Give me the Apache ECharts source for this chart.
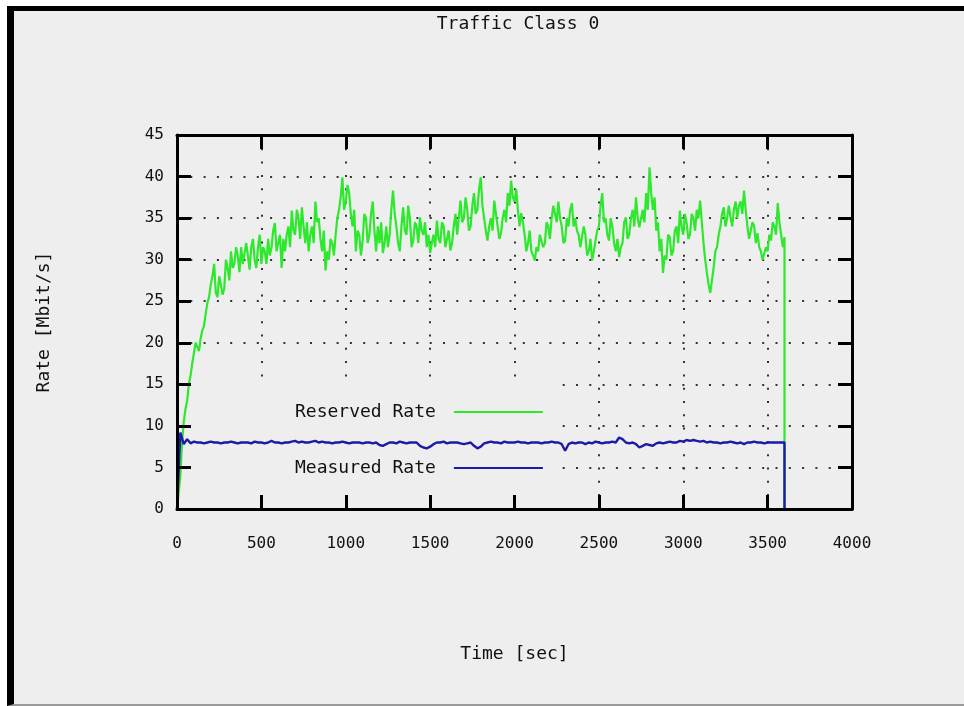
<!DOCTYPE html>
<html>
<head>
<meta charset="utf-8">
<script src="https://cdn.jsdelivr.net/npm/echarts@6/dist/echarts.min.js"></script>
<style>
  html, body { margin: 0; padding: 0; background: #ffffff; }
  #frame { position: absolute; left: 7px; top: 6px; width: 957px; height: 693px;
           background: #eeeeee; border-top: 5px solid #000; border-left: 7px solid #000;
           border-bottom: 2px solid #9a9a9a; box-sizing: content-box; }
  #chart { position: absolute; left: 0; top: 0; width: 964px; height: 706px; }
</style>
</head>
<body>
<div id="frame"></div>
<div id="chart"></div>
<script>
const titleText = 'Traffic Class 0';
const xName = 'Time [sec]';
const yName = 'Rate [Mbit/s]';
const seriesNames = ['Reserved Rate', 'Measured Rate'];
const reservedStep = 10;  // seconds between Reserved Rate samples
const measuredStep = 20;  // seconds between Measured Rate samples
const endTime = 3600;     // both series drop to 0 here
const xRange = [0, 4000, 500];
const yRange = [0, 45, 5];

// Reserved Rate (Mbit/s), one value every 10 s from t=0 to t=3600
const reserved = [
  0, 2, 4, 8, 10.5, 12, 13, 15, 16, 17.5, 18.7, 20, 19.5, 19, 20.5, 21.5, 22, 23.5, 24.8, 25.5,
  27, 28, 29.5, 26, 25.5, 28, 27, 25.8, 26.5, 30, 29, 27.5, 31, 29, 29.5, 31.5, 30.5, 28.5, 31.5, 29.5,
  29.5, 32, 30.5, 28.8, 31.5, 32.5, 30, 29, 31.5, 33, 29.5, 31.5, 31, 29.5, 32.5, 30.5, 31.5, 33.5, 34.4, 31,
  32, 33, 29, 32.5, 31, 33, 34, 31.5, 35.9, 33.5, 33, 36, 35, 32.5, 36.3, 34, 32, 34.5, 31, 33,
  34, 32, 37, 34.5, 35, 32.5, 31, 33.5, 28.7, 31, 30, 32.5, 32, 30.5, 33, 35, 36, 37.5, 39.9, 36,
  37, 39, 38, 35.5, 34, 36, 31, 33.5, 33, 30.5, 32.3, 35.5, 35, 32, 33, 35.5, 37, 33.5, 31, 34,
  32, 34.5, 30.8, 32, 34, 31.5, 33, 36, 38.3, 35.5, 34, 32, 31, 34, 36.3, 33.5, 33, 36.5, 35, 31.5,
  32.3, 34.5, 34, 32, 35.1, 33.5, 33, 34.5, 31.5, 33, 30.8, 32, 33, 31.5, 34.7, 32.5, 32, 34.5, 34, 31.5,
  31.5, 33.5, 31.1, 32, 34, 35.5, 33, 35, 37.1, 34.5, 35, 37.5, 36, 33.5, 34, 36.5, 38, 35.5, 36, 38.5,
  39.9, 36.5, 35, 33.5, 32.3, 34, 35, 33.5, 37.1, 35.5, 34, 32.5, 33.2, 35, 36, 34.5, 38, 36.5, 39.5, 37.5,
  37, 38.5, 36, 34, 35.6, 34.5, 33, 31, 32, 33.5, 31, 30.5, 29.9, 31.5, 31, 33, 33.2, 31.5, 32, 34.5,
  34, 32.5, 35, 36.5, 36.3, 34.5, 37, 35, 34, 32, 32.3, 35, 34, 36, 36.8, 34, 35, 33.5, 33, 31.5,
  31.5, 34, 33, 30.5, 31, 32.5, 29.9, 31, 31, 33.5, 34, 36.5, 38, 34.5, 35, 33, 32.3, 35, 34, 32,
  31, 32.5, 30.3, 31.5, 32, 34.5, 35.1, 32.5, 33, 35, 36, 34, 37.5, 35, 33.9, 35, 36, 34.5, 38, 36,
  41.1, 38, 36, 37.5, 33.5, 34.5, 31, 32.5, 28.4, 30.5, 30, 33, 32.7, 30.5, 31, 33.5, 34, 32, 35.9, 34,
  33, 35.5, 34.4, 32.5, 33, 35.5, 35, 33.5, 36, 35, 37.1, 34.5, 32, 30, 28.4, 27, 26, 27.5, 29, 31,
  31.5, 33, 34, 35.5, 36.3, 34, 35, 36.5, 35.1, 34, 36, 37, 35, 36.5, 37, 35.5, 38.3, 36, 34, 32.5,
  32.3, 34.5, 34, 32, 33.2, 31.5, 31, 30, 29.9, 31.5, 31, 33, 32.3, 34.5, 34, 33, 36.8, 34.5, 33, 31.5,
  32.7
];

// Measured Rate (Mbit/s), one value every 20 s from t=0 to t=3600
const measured = [
  0, 9.2, 7.8, 8.4, 7.9, 8.1, 8.0, 8.0, 7.9, 8.0, 8.1, 8.0, 8.0, 7.9, 8.0, 8.0, 8.1, 8.0, 7.9, 8.0,
  8.0, 8.0, 7.9, 8.1, 8.0, 8.0, 7.9, 8.0, 8.2, 8.0, 8.0, 7.9, 8.0, 8.0, 8.1, 8.2, 8.0, 8.1, 8.0, 8.0,
  8.1, 8.2, 8.0, 8.1, 8.0, 8.0, 7.9, 8.0, 8.0, 8.1, 8.0, 7.9, 8.0, 8.0, 8.0, 7.9, 8.0, 8.0, 7.9, 8.0,
  7.7, 7.6, 7.8, 8.0, 8.0, 7.9, 8.1, 8.0, 7.9, 8.0, 8.0, 8.0, 7.6, 7.4, 7.3, 7.5, 7.8, 8.0, 8.0, 8.1,
  7.9, 8.0, 8.0, 8.0, 7.9, 7.8, 7.9, 8.0, 7.6, 7.3, 7.5, 7.9, 8.0, 8.1, 8.0, 8.0, 7.9, 8.1, 8.0, 8.0,
  8.0, 8.1, 8.0, 8.0, 7.9, 8.0, 8.0, 8.0, 7.9, 8.0, 8.0, 8.1, 8.0, 8.0, 7.8, 7.0, 7.8, 8.0, 7.9, 8.0,
  8.0, 7.8, 8.0, 7.9, 8.1, 8.0, 7.9, 8.0, 8.0, 8.1, 8.0, 8.6, 8.4, 8.0, 7.9, 8.0, 7.8, 7.4, 7.6, 7.8,
  7.7, 7.6, 7.9, 8.0, 7.9, 8.0, 8.1, 8.0, 8.0, 8.2, 8.1, 8.3, 8.2, 8.3, 8.2, 8.1, 8.2, 8.0, 8.1, 8.0,
  8.0, 7.9, 8.0, 8.0, 8.1, 8.0, 7.9, 8.0, 7.8, 8.0, 8.0, 8.1, 8.0, 8.0, 7.9, 8.0, 8.0, 8.0, 8.0, 8.0,
  8.0
];

// region of the plot kept clear of grid dots around the key
const keyClearBox = [[0, 0], [2250, 15.5]];

function toPairs(arr, step) {
  return arr.map((v, i) => [i * step, v]).concat([[endTime, 0]]);
}

const FONT = 'DejaVu Sans Mono';
const TXT = '#111';
const axisLineStyle = { show: true, onZero: false, lineStyle: { color: '#000', width: 3 } };
const tickStyle = { show: true, inside: true, length: 14, lineStyle: { color: '#000', width: 3 } };
const gridDots = { show: true, lineStyle: { color: '#333', width: 2, type: [2, 11.3] } };
const plain = v => String(v);

function gridOnlyAxis(range) {
  return {
    type: 'value', min: range[0], max: range[1], interval: range[2], z: 0,
    axisLine: { show: false }, axisTick: { show: false }, axisLabel: { show: false },
    splitLine: gridDots
  };
}

const chart = echarts.init(document.getElementById('chart'), null, { renderer: 'canvas' });
chart.setOption({
  backgroundColor: 'transparent',
  animation: false,
  title: {
    text: titleText, left: 513, top: 10, textAlign: 'center',
    textStyle: { fontFamily: FONT, fontSize: 18, fontWeight: 'normal', color: TXT }
  },
  legend: {
    data: seriesNames, orient: 'vertical', left: 290, top: 398, align: 'right',
    itemWidth: 89, itemHeight: 2, itemGap: 38, icon: 'rect',
    textStyle: { fontFamily: FONT, fontSize: 18, color: TXT, padding: [0, 13, 0, 0] }
  },
  grid: { left: 177, right: 112, top: 135, bottom: 197 },
  xAxis: [{
    type: 'value', min: xRange[0], max: xRange[1], interval: xRange[2], z: 10,
    name: xName, nameLocation: 'middle', nameGap: 136,
    nameTextStyle: { fontFamily: FONT, fontSize: 18, color: TXT },
    axisLine: axisLineStyle, axisTick: tickStyle,
    axisLabel: { margin: 27, fontFamily: FONT, fontSize: 16, color: TXT, formatter: plain },
    splitLine: { show: false }
  }, {
    type: 'value', position: 'top', min: xRange[0], max: xRange[1], interval: xRange[2], z: 10,
    axisLine: axisLineStyle, axisTick: tickStyle,
    axisLabel: { show: false }, splitLine: { show: false }
  }, gridOnlyAxis(xRange)],
  yAxis: [{
    type: 'value', min: yRange[0], max: yRange[1], interval: yRange[2], z: 10,
    name: yName, nameLocation: 'middle', nameGap: 124, nameRotate: 90,
    nameTextStyle: { fontFamily: FONT, fontSize: 18, color: TXT },
    axisLine: axisLineStyle, axisTick: tickStyle,
    axisLabel: { margin: 13, fontFamily: FONT, fontSize: 16, color: TXT, formatter: plain },
    splitLine: { show: false }
  }, {
    type: 'value', position: 'right', min: yRange[0], max: yRange[1], interval: yRange[2], z: 10,
    axisLine: axisLineStyle, axisTick: tickStyle,
    axisLabel: { show: false }, splitLine: { show: false }
  }, gridOnlyAxis(yRange)],
  series: [{
    name: 'keybox', type: 'line', data: [], z: 1, silent: true,
    xAxisIndex: 0, yAxisIndex: 0,
    markArea: { silent: true, itemStyle: { color: '#eeeeee', opacity: 1 }, data: [[
      { coord: keyClearBox[0] }, { coord: keyClearBox[1] }
    ]] }
  }, {
    name: seriesNames[0], type: 'line', data: toPairs(reserved, reservedStep), z: 3,
    xAxisIndex: 0, yAxisIndex: 0, showSymbol: false, symbol: 'none',
    color: '#2ee82e', lineStyle: { color: '#2ee82e', width: 2.2 }
  }, {
    name: seriesNames[1], type: 'line', data: toPairs(measured, measuredStep), z: 4,
    xAxisIndex: 0, yAxisIndex: 0, showSymbol: false, symbol: 'none',
    color: '#1b1ba8', lineStyle: { color: '#1b1ba8', width: 2.4 }
  }]
});
</script>
</body>
</html>
